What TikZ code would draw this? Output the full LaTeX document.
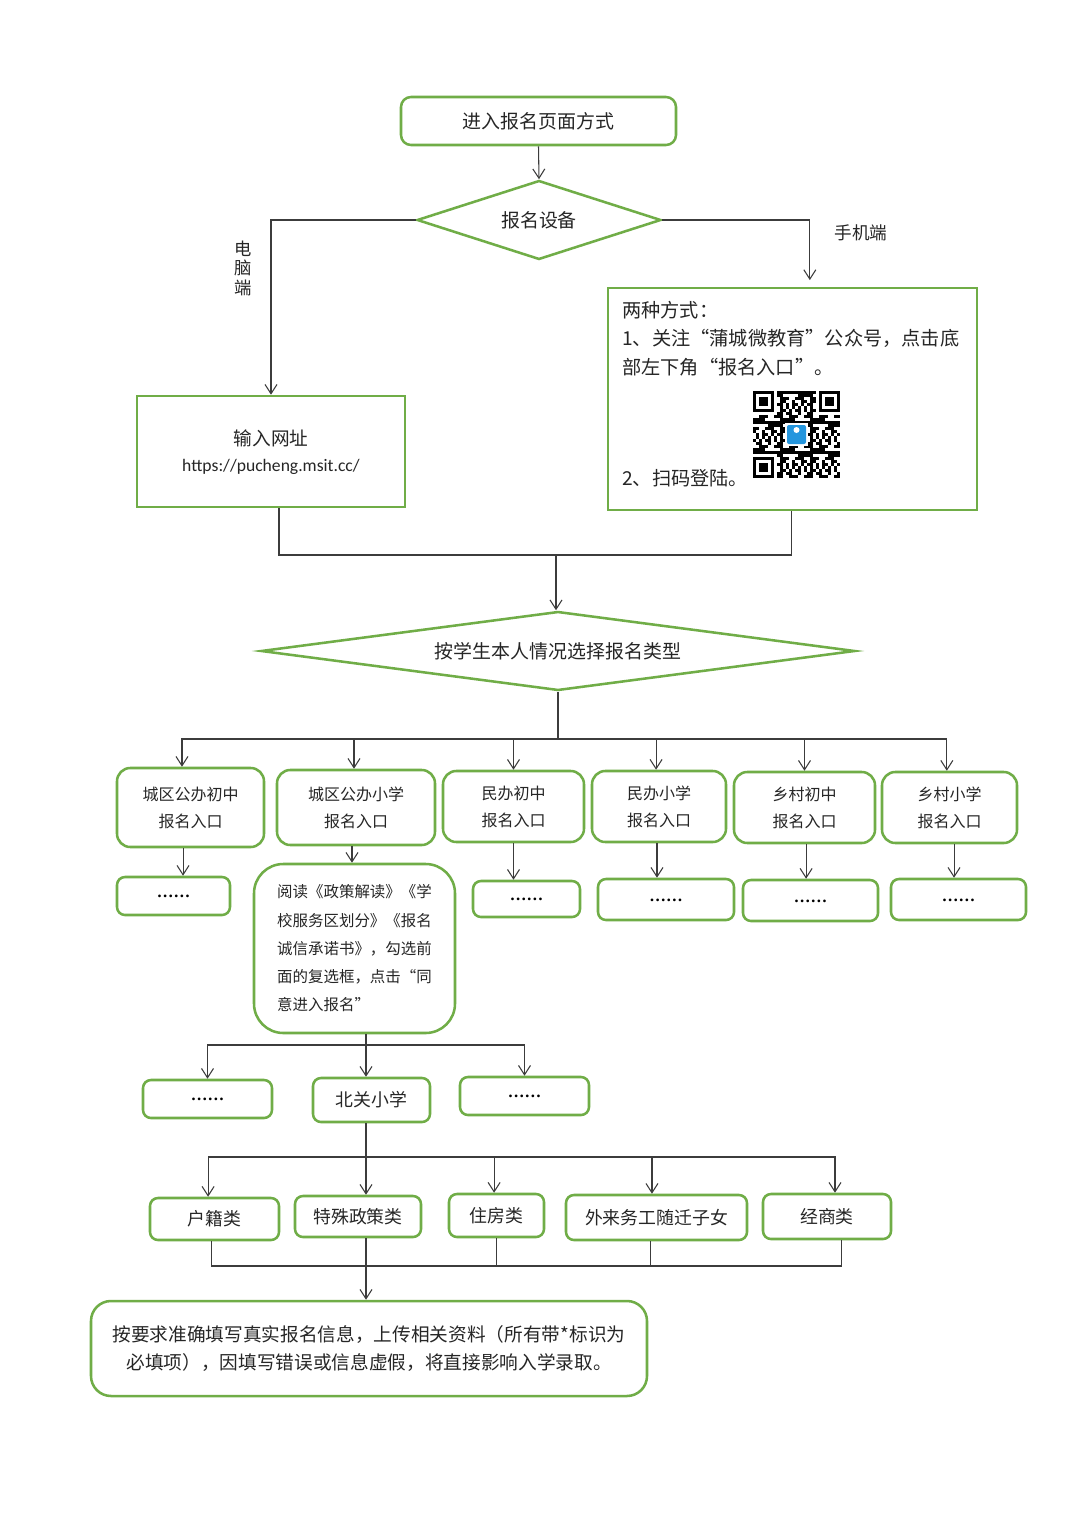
\documentclass[tikz,border=0pt]{standalone}
\usepackage{fontspec}
\setmainfont{Noto Sans CJK SC}
\newfontfamily\urlfont{Carlito}
\newfontfamily\dotfont{Liberation Serif}
\usetikzlibrary{shapes.geometric,arrows.meta}
\definecolor{gr}{RGB}{112,173,71}
\definecolor{lnc}{RGB}{60,60,60}
\definecolor{qrblue}{RGB}{36,150,222}
\newcommand\dotsix{\raisebox{-2.5pt}{\bfseries ……}}
\begin{document}
\begin{tikzpicture}[x=0.75pt,y=-0.75pt,
  box/.style={draw=gr, line width=1.9pt, fill=white, inner sep=0pt, text=black!85, align=center},
  rb/.style={box, rounded corners=#1}, rb/.default=6pt,
  sz/.style 2 args={minimum width=#1*0.75pt, minimum height=#2*0.75pt},
  dia/.style={shape=diamond, draw=gr, line width=1.9pt, fill=white, inner sep=0pt, text=black!85},
  conn/.style={draw=lnc, line width=0.8pt},
  arr/.style={conn, -{Straight Barb[length=7pt,width=9pt]}},
  tA/.style={font=\fontsize{14.2}{17}\selectfont},
  tB/.style={font=\fontsize{12}{20.2}\selectfont},
  tC/.style={font=\fontsize{13.4}{17}\selectfont},
  dots/.style={font=\dotfont\fontsize{12.5}{14}\selectfont, text=black},
  lab/.style={text=black!85, inner sep=0pt}
]
\useasboundingbox (0,0) rectangle (1080,1527);
\fill[white] (0,0) rectangle (1080,1527);

% top
\node[rb=7.5pt, sz={275}{48}, tA] (top) at (538.5,121) {进入报名页面方式};
\node[dia, aspect=3.1, sz={244}{79}, tA] (dev) at (539,220) {报名设备};
\node[lab, align=center, font=\fontsize{13}{14.6}\selectfont] (lpc) at (243,268) {电\\脑\\端};
\node[lab, font=\fontsize{13.2}{15}\selectfont] (lmob) at (861,233) {手机端};

% pc box
\node[box, sz={268}{111}] (pc) at (271,451.5) {};
\node[lab, font=\fontsize{14}{16}\selectfont] (pct1) at (271,438) {输入网址};
\node[lab, font=\urlfont\fontsize{13.2}{15}\selectfont] (pct2) at (271,467) {https://pucheng.msit.cc/};

% mobile box
\node[box, sz={369}{222}] (mob) at (792.5,399) {};
\node[lab, anchor=west, font=\fontsize{14.4}{17}\selectfont] (m1) at (622,310) {两种方式：};
\node[lab, anchor=west, font=\fontsize{14.4}{17}\selectfont] (m2) at (622,338) {1、关注“蒲城微教育”公众号，点击底};
\node[lab, anchor=west, font=\fontsize{14.4}{17}\selectfont] (m3) at (622,367) {部左下角“报名入口”。};
\node[lab, anchor=west, font=\fontsize{14.4}{17}\selectfont] (m4) at (622,478) {2、扫码登陆。};

% QR code
\begin{scope}[shift={(753,391)}]
  \foreach \i in {0,...,28}{
    \foreach \j in {0,...,28}{
      \pgfmathtruncatemacro\sk{((\i<8)&&(\j<8)) || ((\i>20)&&(\j<8)) || ((\i<8)&&(\j>20))}
      \pgfmathtruncatemacro\qv{mod(\i*\i*3+\j*\j*5+\i*\j*7+\i*11+\j*2,10)}
      \ifnum\sk=0 \ifnum\qv<5 \fill[black] (\i*3,\j*3) rectangle +(3,3); \fi\fi
    }
  }
  \foreach \a/\b in {0/0,66/0,0/66}{
    \fill[black] (\a,\b) rectangle +(21,21);
    \fill[white] (\a+3,\b+3) rectangle +(15,15);
    \fill[black] (\a+6,\b+6) rectangle +(9,9);
  }
  \fill[white] (32,32) rectangle (55,55);
  \fill[qrblue, rounded corners=1.5pt] (34,34) rectangle (53,53);
  \fill[white] (43.5,39) circle (3);
\end{scope}

% type diamond
\node[dia, aspect=7.5, sz={594}{79}, tA] (typ) at (558,651) {按学生本人情况选择报名类型};

% row 1 entries
\node[rb=10pt, sz={147}{79}, tB] (e1) at (190.5,807.5) {城区公办初中\\报名入口};
\node[rb=10pt, sz={158}{75}, tB] (e2) at (356,807.5) {城区公办小学\\报名入口};
\node[rb=10pt, sz={141}{71}, tB] (e3) at (513.5,806.5) {民办初中\\报名入口};
\node[rb=10pt, sz={134}{71}, tB] (e4) at (659,806.5) {民办小学\\报名入口};
\node[rb=10pt, sz={141}{71}, tB] (e5) at (804.5,807.5) {乡村初中\\报名入口};
\node[rb=10pt, sz={135}{71}, tB] (e6) at (949.5,807.5) {乡村小学\\报名入口};

% dots row
\node[rb, sz={113}{38}, dots] (d1) at (173.5,896) {\dotsix};
\node[rb, sz={107}{36}, dots] (d3) at (526.5,899) {\dotsix};
\node[rb, sz={136}{41}, dots] (d4) at (666,899.5) {\dotsix};
\node[rb, sz={135}{41}, dots] (d5) at (810.5,900.5) {\dotsix};
\node[rb, sz={135}{41}, dots] (d6) at (958.5,899.5) {\dotsix};

% read box
\node[rb=22pt, sz={201}{169}, align=left, font=\fontsize{11.6}{21.2}\selectfont] (read) at (354.5,948.5)
  {阅读《政策解读》《学\\校服务区划分》《报名\\诚信承诺书》，勾选前\\面的复选框，点击“同\\意进入报名”};

% schools
\node[rb, sz={129}{38}, dots] (dl) at (207.5,1099) {\dotsix};
\node[rb, sz={117}{44}, tC] (bg) at (371.5,1100) {北关小学};
\node[rb, sz={129}{38}, dots] (dr) at (524.5,1096) {\dotsix};

% categories
\node[rb, sz={129}{42}, tC] (c1) at (214.5,1219) {户籍类};
\node[rb, sz={126}{41}, tC] (c2) at (358,1216.5) {特殊政策类};
\node[rb, sz={95}{43}, tC] (c3) at (496.5,1215.5) {住房类};
\node[rb, sz={181}{45}, tC] (c4) at (656.5,1217.5) {外来务工随迁子女};
\node[rb, sz={128}{45}, tC] (c5) at (827,1216.5) {经商类};

% final
\node[rb=15pt, sz={556}{95}, font=\fontsize{14}{21}\selectfont] (fin) at (369,1348.5)
  {按要求准确填写真实报名信息，上传相关资料（所有带*标识为\\必填项），因填写错误或信息虚假，将直接影响入学录取。};

% connectors top
\draw[arr] (top.south) -- (dev.north);
\draw[arr] (dev.west) -| (pc.north);
\draw[arr, shorten >=5pt] (dev.east) -| ([xshift=13pt]mob.north);

\coordinate (j1) at (556,555);
\draw[conn] ([xshift=6pt]pc.south) |- (j1);
\draw[conn] ([xshift=-1pt]mob.south) |- (j1);
\draw[arr] (j1) -- (j1 |- typ.north);

\coordinate (bus) at (558,739);
\draw[conn] (typ.south) -- (bus);
\draw[arr] (bus) -| ([xshift=-6.4pt]e1.north);
\draw[arr] (bus) -| ([xshift=-1.5pt]e2.north);
\draw[arr] (bus) -| (e3.north);
\draw[arr] (bus) -| ([xshift=-2.2pt]e4.north);
\draw[arr] (bus) -| (e5.north);
\draw[arr] (bus) -| ([xshift=-2pt]e6.north);

\draw[arr] ([xshift=-5.6pt]e1.south) -- ([xshift=-5.6pt]e1.south |- d1.north);
\draw[arr] ([xshift=-3pt]e2.south) -- ([xshift=-3pt]e2.south |- read.north);
\draw[arr] (e3.south) -- (e3.south |- d3.north);
\draw[arr] ([xshift=-1.5pt]e4.south) -- ([xshift=-1.5pt]e4.south |- d4.north);
\draw[arr] ([xshift=1.2pt]e5.south) -- ([xshift=1.2pt]e5.south |- d5.north);
\draw[arr] ([xshift=3.4pt]e6.south) -- ([xshift=3.4pt]e6.south |- d6.north);

\coordinate (j2) at (366,1045);
\draw[conn] (j2 |- read.south) -- (j2);
\draw[arr] (j2) -- (j2 |- bg.north);
\draw[arr] (j2) -| (dl.north);
\draw[arr] (j2) -| (dr.north);

\coordinate (j3) at (366,1157);
\draw[conn] (j3 |- bg.south) -- (j3);
\draw[arr] (j3) -| ([xshift=-4.8pt]c1.north);
\draw[arr] (j3) -- (j3 |- c2.north);
\draw[arr] (j3) -| ([xshift=-1.8pt]c3.north);
\draw[arr] (j3) -| ([xshift=-3.4pt]c4.north);
\draw[arr] (j3) -| ([xshift=6pt]c5.north);

\coordinate (j4) at (366,1266);
\draw[conn] ([xshift=-2.6pt]c1.south) |- (j4);
\draw[conn] ([xshift=11pt]c5.south) |- (j4);
\draw[conn] (c3.south) -- (c3.south |- j4);
\draw[conn] ([xshift=-4.8pt]c4.south) -- ([xshift=-4.8pt]c4.south |- j4);
\draw[arr] (j4 |- c2.south) -- (j4 |- fin.north);
\end{tikzpicture}
\end{document}
